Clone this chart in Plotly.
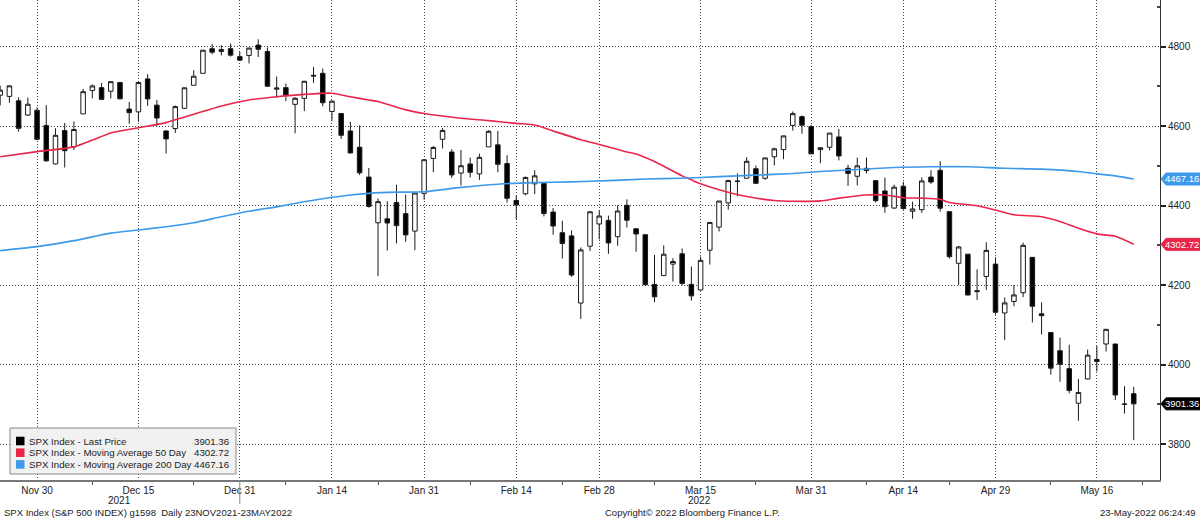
import plotly.graph_objects as go

# ---------------- data ----------------
dates = [
    "2021-11-23", "2021-11-24", "2021-11-26", "2021-11-29", "2021-11-30",
    "2021-12-01", "2021-12-02", "2021-12-03", "2021-12-06", "2021-12-07", "2021-12-08", "2021-12-09", "2021-12-10",
    "2021-12-13", "2021-12-14", "2021-12-15", "2021-12-16", "2021-12-17", "2021-12-20", "2021-12-21", "2021-12-22",
    "2021-12-23", "2021-12-27", "2021-12-28", "2021-12-29", "2021-12-30", "2021-12-31",
    "2022-01-03", "2022-01-04", "2022-01-05", "2022-01-06", "2022-01-07", "2022-01-10", "2022-01-11", "2022-01-12",
    "2022-01-13", "2022-01-14", "2022-01-18", "2022-01-19", "2022-01-20", "2022-01-21", "2022-01-24", "2022-01-25",
    "2022-01-26", "2022-01-27", "2022-01-28", "2022-01-31",
    "2022-02-01", "2022-02-02", "2022-02-03", "2022-02-04", "2022-02-07", "2022-02-08", "2022-02-09", "2022-02-10",
    "2022-02-11", "2022-02-14", "2022-02-15", "2022-02-16", "2022-02-17", "2022-02-18", "2022-02-22", "2022-02-23",
    "2022-02-24", "2022-02-25", "2022-02-28",
    "2022-03-01", "2022-03-02", "2022-03-03", "2022-03-04", "2022-03-07", "2022-03-08", "2022-03-09", "2022-03-10",
    "2022-03-11", "2022-03-14", "2022-03-15", "2022-03-16", "2022-03-17", "2022-03-18", "2022-03-21", "2022-03-22",
    "2022-03-23", "2022-03-24", "2022-03-25", "2022-03-28", "2022-03-29", "2022-03-30", "2022-03-31",
    "2022-04-01", "2022-04-04", "2022-04-05", "2022-04-06", "2022-04-07", "2022-04-08", "2022-04-11", "2022-04-12",
    "2022-04-13", "2022-04-14", "2022-04-18", "2022-04-19", "2022-04-20", "2022-04-21", "2022-04-22", "2022-04-25",
    "2022-04-26", "2022-04-27", "2022-04-28", "2022-04-29",
    "2022-05-02", "2022-05-03", "2022-05-04", "2022-05-05", "2022-05-06", "2022-05-09", "2022-05-10", "2022-05-11",
    "2022-05-12", "2022-05-13", "2022-05-16", "2022-05-17", "2022-05-18", "2022-05-19", "2022-05-20",
]

opens = [
    4678, 4675, 4664, 4628, 4640,
    4602, 4505, 4589, 4548, 4631, 4690, 4697, 4688,
    4710, 4643, 4636, 4719, 4653, 4588, 4594, 4645,
    4703, 4733, 4795, 4788, 4795, 4775,
    4778, 4804, 4788, 4693, 4697, 4655, 4670, 4728,
    4733, 4637, 4632, 4588, 4547, 4472, 4357, 4367,
    4408, 4380, 4336, 4431,
    4519, 4567, 4535, 4482, 4505, 4480, 4548, 4553,
    4506, 4413, 4430, 4455, 4456, 4384, 4332, 4324,
    4155, 4298, 4354,
    4363, 4322, 4401, 4342, 4327, 4202, 4224, 4253,
    4279, 4202, 4188, 4288, 4346, 4407, 4462, 4469,
    4493, 4469, 4523, 4541, 4602, 4624, 4599,
    4541, 4547, 4573, 4494, 4474, 4494, 4463, 4437,
    4394, 4449, 4386, 4390, 4472, 4489, 4385, 4255,
    4278, 4186, 4222, 4253,
    4130, 4159, 4181, 4270, 4128, 4081, 4035, 3990,
    3903, 3964, 4013, 4052, 4052, 3900, 3927,
]

highs = [
    4702, 4702, 4673, 4672, 4647,
    4653, 4595, 4608, 4612, 4694, 4705, 4709, 4713,
    4711, 4661, 4712, 4731, 4666, 4590, 4652, 4697,
    4741, 4791.5, 4807, 4804, 4808, 4787,
    4797, 4818.6, 4798, 4725, 4707, 4673, 4714, 4749,
    4745, 4665, 4632, 4611, 4602, 4495, 4418, 4411,
    4453, 4428, 4432, 4516,
    4550, 4595, 4542, 4540, 4521, 4531, 4590, 4588,
    4527, 4426, 4473, 4489, 4456, 4394, 4362, 4338,
    4295, 4385, 4388,
    4375, 4401, 4416, 4342, 4327, 4276, 4300, 4268,
    4292, 4247, 4272, 4358, 4412, 4465, 4481, 4522,
    4501, 4520, 4546, 4576, 4637, 4627, 4603,
    4547, 4583, 4593, 4503, 4521, 4521, 4464, 4471,
    4453, 4460, 4410, 4471, 4489, 4512, 4386, 4299,
    4278, 4240, 4308, 4270,
    4169, 4200, 4307, 4270, 4157, 4081, 4068, 4050,
    3964, 4038, 4047, 4090, 4052, 3946, 3944,
]

lows = [
    4652, 4659, 4586, 4626, 4565,
    4510, 4504, 4496, 4540, 4631, 4670, 4667, 4670,
    4667, 4606, 4611, 4651, 4600, 4531, 4583, 4643,
    4703, 4733, 4781, 4778, 4775, 4765,
    4758, 4774, 4699, 4671, 4663, 4582, 4638, 4709,
    4650, 4614, 4568, 4531, 4477, 4395, 4222.6, 4287,
    4305, 4309, 4288, 4415,
    4484, 4544, 4470, 4451, 4471, 4465, 4548, 4484,
    4408, 4365, 4426, 4429, 4373, 4327, 4267, 4221,
    4115, 4286, 4315,
    4279, 4299, 4345, 4284, 4199, 4157, 4224, 4209,
    4200, 4161, 4187, 4252, 4335, 4390, 4424, 4469,
    4455, 4465, 4501, 4517, 4589, 4581, 4530,
    4507, 4539, 4514, 4450, 4451, 4481, 4408, 4382,
    4392, 4390, 4367, 4382, 4455, 4385, 4267, 4200,
    4175, 4163, 4188, 4126,
    4062, 4147, 4170, 4106, 4076, 3975, 3957, 3928,
    3859, 3963, 3983, 4033, 3911, 3877, 3810,
]

closes = [
    4690.70, 4701.46, 4594.62, 4655.27, 4567.00,
    4513.04, 4577.10, 4538.43, 4591.67, 4686.75, 4701.21, 4667.45, 4712.02,
    4668.97, 4634.09, 4709.85, 4668.67, 4620.64, 4568.02, 4649.23, 4696.56,
    4725.79, 4791.19, 4786.35, 4793.06, 4778.73, 4766.18,
    4796.56, 4793.54, 4700.58, 4696.05, 4677.03, 4670.29, 4713.07, 4726.35,
    4659.03, 4662.85, 4577.11, 4532.76, 4482.73, 4397.94, 4410.13, 4356.45,
    4349.93, 4326.51, 4431.85, 4515.55,
    4546.54, 4589.38, 4477.44, 4500.53, 4483.87, 4521.54, 4587.18, 4504.08,
    4418.64, 4401.67, 4471.07, 4475.01, 4380.26, 4348.87, 4304.76, 4225.50,
    4288.70, 4384.65, 4373.94,
    4306.26, 4386.54, 4363.49, 4328.87, 4201.09, 4170.70, 4277.88, 4259.52,
    4204.31, 4173.11, 4262.45, 4357.86, 4411.67, 4463.12, 4461.18, 4511.61,
    4456.24, 4520.16, 4543.06, 4575.52, 4631.60, 4602.45, 4530.41,
    4545.86, 4582.64, 4525.12, 4481.15, 4500.21, 4488.28, 4412.53, 4397.45,
    4446.59, 4392.59, 4391.69, 4462.21, 4459.45, 4393.66, 4271.78, 4296.12,
    4175.20, 4183.96, 4287.50, 4131.93,
    4155.38, 4175.48, 4300.17, 4146.87, 4123.34, 3991.24, 4001.05, 3935.18,
    3930.08, 4023.89, 4008.01, 4088.85, 3923.68, 3900.79, 3901.36,
]

ma50_dates = [
    "2021-11-23", "2021-11-30", "2021-12-06", "2021-12-08", "2021-12-10", "2021-12-15", "2021-12-20",
    "2021-12-21", "2021-12-23", "2021-12-29", "2022-01-03", "2022-01-06", "2022-01-11", "2022-01-14",
    "2022-01-19", "2022-01-21", "2022-01-24", "2022-01-27", "2022-01-31", "2022-02-04", "2022-02-09",
    "2022-02-14", "2022-02-16", "2022-02-18", "2022-02-24", "2022-02-28", "2022-03-03", "2022-03-04",
    "2022-03-08", "2022-03-11", "2022-03-14", "2022-03-15", "2022-03-17", "2022-03-22", "2022-03-25",
    "2022-03-29", "2022-04-01", "2022-04-05", "2022-04-08", "2022-04-12", "2022-04-14", "2022-04-19",
    "2022-04-21", "2022-04-22", "2022-04-27", "2022-04-29", "2022-05-03", "2022-05-06", "2022-05-10",
    "2022-05-12", "2022-05-16", "2022-05-18", "2022-05-20",
]
ma50_vals = [
    4523, 4536, 4548, 4565, 4583, 4596, 4609,
    4616, 4630, 4651, 4666, 4674, 4680, 4683,
    4674, 4666, 4662, 4641, 4632, 4620, 4614,
    4607, 4603, 4588, 4566, 4554, 4535, 4530,
    4511, 4475, 4465, 4455, 4440, 4423, 4413,
    4411, 4412, 4419, 4427, 4427, 4420, 4419,
    4416, 4408, 4400, 4389, 4377, 4372, 4360,
    4343, 4329, 4323, 4302.72,
]

ma200_dates = [
    "2021-11-23", "2021-11-30", "2021-12-06", "2021-12-10", "2021-12-15", "2021-12-20", "2021-12-23",
    "2021-12-29", "2022-01-03", "2022-01-06", "2022-01-11", "2022-01-14", "2022-01-19", "2022-01-21",
    "2022-01-26", "2022-01-31", "2022-02-04", "2022-02-10", "2022-02-16", "2022-02-23", "2022-03-01",
    "2022-03-07", "2022-03-11", "2022-03-17", "2022-03-23", "2022-03-29", "2022-04-01", "2022-04-07",
    "2022-04-13", "2022-04-20", "2022-04-26", "2022-05-02", "2022-05-06", "2022-05-12", "2022-05-16",
    "2022-05-18", "2022-05-20",
]
ma200_vals = [
    4287, 4297, 4312, 4331, 4339, 4347, 4357,
    4372, 4386, 4397, 4410, 4421, 4427, 4431,
    4434, 4435, 4446, 4454, 4458, 4460, 4463,
    4467, 4469, 4473, 4477, 4481, 4486, 4491,
    4496, 4498, 4498, 4494, 4492, 4486, 4480,
    4475, 4467.16,
]

label_dates = ["2021-11-30", "2021-12-15", "2021-12-31", "2022-01-14", "2022-01-31", "2022-02-14",
               "2022-02-28", "2022-03-15", "2022-03-31", "2022-04-14", "2022-04-29", "2022-05-16"]
label_text = ["Nov 30", "Dec 15", "Dec 31", "Jan 14", "Jan 31", "Feb 14",
              "Feb 28", "Mar 15", "Mar 31", "Apr 14", "Apr 29", "May 16"]
minor_dates = ["2021-12-08", "2021-12-23", "2022-01-07", "2022-01-24", "2022-02-07", "2022-02-22",
               "2022-03-08", "2022-03-23", "2022-04-08", "2022-04-22", "2022-05-09", "2022-05-23"]
year_break = "2021-12-31"
y_major = [3800, 4000, 4200, 4400, 4600, 4800]
y_minor = [3900, 4100, 4300, 4500, 4700, 4900]

# ------------- helpers -------------
axis_dates = dates + ["2022-05-23"]          # chart range end 23MAY2022
pos = {d: i for i, d in enumerate(axis_dates)}
xi = [pos[d] for d in dates]

X_RANGE = [-0.02, 125.85]
Y_RANGE = [3709.8, 4917.5]
PW, PH = 1160, 480
FONT = "Liberation Sans"
RED = "#E8264A"
BLUE = "#3D9AEA"
GRID_DASH = "1px,2px"


def ppx(x):
    return x / PW


def ppy(y):
    return 1 - y / PH


fig = go.Figure()

fig.add_trace(go.Scatter(
    x=[pos[d] for d in ma50_dates], y=ma50_vals, mode="lines",
    line=dict(color=RED, width=1.6, shape="spline", smoothing=0.6),
    name="SPX Index - Moving Average 50 Day", hoverinfo="skip"))
fig.add_trace(go.Scatter(
    x=[pos[d] for d in ma200_dates], y=ma200_vals, mode="lines",
    line=dict(color=BLUE, width=1.6, shape="spline", smoothing=0.6),
    name="SPX Index - Moving Average 200 Day", hoverinfo="skip"))
fig.add_trace(go.Candlestick(
    x=xi, open=opens, high=highs, low=lows, close=closes,
    increasing=dict(line=dict(color="#1a1a1a", width=1), fillcolor="#ffffff"),
    decreasing=dict(line=dict(color="#1a1a1a", width=1), fillcolor="#000000"),
    whiskerwidth=0, name="SPX Index - Last Price", hoverinfo="skip"))

fig.update_layout(
    width=1200, height=518,
    margin=dict(l=0, r=40, t=0, b=38),
    paper_bgcolor="white", plot_bgcolor="white",
    showlegend=False,
    font=dict(family=FONT, size=10, color="#222"),
    xaxis=dict(
        range=X_RANGE, rangeslider=dict(visible=False),
        tickmode="array", tickvals=[pos[d] for d in label_dates], ticktext=label_text,
        ticks="", showgrid=True, gridcolor="#444", griddash=GRID_DASH, gridwidth=1,
        showline=True, linecolor="#777", linewidth=1.5, zeroline=False,
        tickfont=dict(family=FONT, size=10, color="#222"),
        minor=dict(tickmode="array", tickvals=[pos[d] for d in minor_dates],
                   ticks="outside", ticklen=3, tickcolor="#555", showgrid=False),
        fixedrange=True,
    ),
    yaxis=dict(
        range=Y_RANGE, side="right",
        tickmode="array", tickvals=y_major, ticktext=[str(v) for v in y_major],
        ticks="outside", ticklen=5, tickwidth=2, tickcolor="#222",
        showgrid=True, gridcolor="#444", griddash=GRID_DASH, gridwidth=1,
        showline=True, linecolor="#333", linewidth=1, zeroline=False,
        tickfont=dict(family=FONT, size=10, color="#222"),
        minor=dict(tickmode="array", tickvals=y_minor, ticks="inside", ticklen=3,
                   tickcolor="#444", showgrid=False),
        fixedrange=True,
    ),
)

# year separator & labels
fig.add_shape(type="line", xref="x", yref="paper", x0=pos[year_break], x1=pos[year_break],
              y0=0, y1=-0.05, line=dict(color="#888", width=1))
fig.add_annotation(xref="x", yref="paper", x=(X_RANGE[0] + pos[year_break]) / 2, y=ppy(500),
                   text="2021", showarrow=False, font=dict(size=10), yanchor="middle")
fig.add_annotation(xref="x", yref="paper", x=(X_RANGE[1] + pos[year_break]) / 2, y=ppy(500),
                   text="2022", showarrow=False, font=dict(size=10), yanchor="middle")

# value tags on right axis
for val, col in [(ma200_vals[-1], BLUE), (ma50_vals[-1], RED), (closes[-1], "#000000")]:
    fig.add_shape(type="path", xref="paper", xsizemode="pixel", xanchor=1,
                  yref="y", ysizemode="pixel", yanchor=val,
                  path="M1,0 L6,6 L45,6 L45,-6 L6,-6 Z",
                  fillcolor=col, line=dict(color=col, width=1), layer="above")
    fig.add_annotation(xref="paper", yref="y", x=1, y=val, xshift=3, xanchor="left",
                       yanchor="middle", text=f"{val:.2f}", showarrow=False,
                       font=dict(family=FONT, size=9.5, color="white"))

# legend box
fig.add_shape(type="rect", xref="paper", yref="paper", x0=ppx(10), x1=ppx(236),
              y0=ppy(474), y1=ppy(428), fillcolor="#f1f1f1",
              line=dict(color="#8a8a8a", width=1), layer="above")
legend_rows = [
    ("SPX Index - Last Price", closes[-1], "#000000"),
    ("SPX Index - Moving Average 50 Day", ma50_vals[-1], RED),
    ("SPX Index - Moving Average 200 Day", ma200_vals[-1], BLUE),
]
for k, (txt, val, col) in enumerate(legend_rows):
    yc = 441 + k * 11.7
    fig.add_shape(type="rect", xref="paper", yref="paper", x0=ppx(16), x1=ppx(24.5),
                  y0=ppy(yc + 4.3), y1=ppy(yc - 4.3), fillcolor=col,
                  line=dict(width=0), layer="above")
    fig.add_annotation(xref="paper", yref="paper", x=ppx(27), y=ppy(yc), xanchor="left",
                       yanchor="middle", text=txt, showarrow=False,
                       font=dict(family=FONT, size=9.7, color="#222"))
    fig.add_annotation(xref="paper", yref="paper", x=ppx(231), y=ppy(yc), xanchor="right",
                       yanchor="middle", text=f"{val:.2f}", showarrow=False,
                       font=dict(family=FONT, size=9.7, color="#222"))

# footer
fig.add_annotation(xref="paper", yref="paper", x=ppx(2), y=ppy(512), xanchor="left", yanchor="middle",
                   text="SPX Index (S&P 500 INDEX) g1598  Daily 23NOV2021-23MAY2022",
                   showarrow=False, font=dict(size=9.5))
fig.add_annotation(xref="paper", yref="paper", x=ppx(603), y=ppy(512), xanchor="left", yanchor="middle",
                   text="Copyright© 2022 Bloomberg Finance L.P.", showarrow=False, font=dict(size=9.5))
fig.add_annotation(xref="paper", yref="paper", x=ppx(1198), y=ppy(512), xanchor="right", yanchor="middle",
                   text="23-May-2022 06:24:49", showarrow=False, font=dict(size=9.5))

fig.write_html("out.html")
